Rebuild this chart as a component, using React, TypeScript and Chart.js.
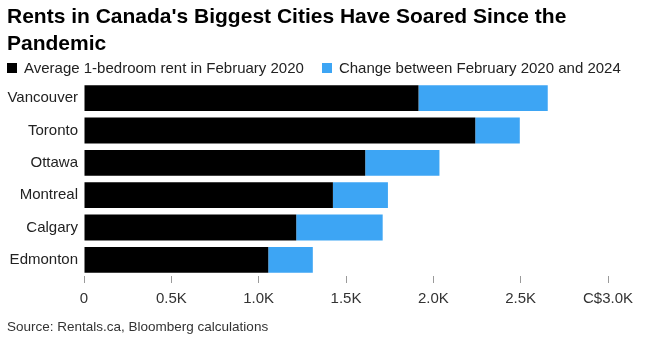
import React, { useEffect, useRef } from "react";
import { Chart, registerables } from "chart.js";

Chart.register(...registerables);

const cities = ["Vancouver", "Toronto", "Ottawa", "Montreal", "Calgary", "Edmonton"];
// Average 1-bedroom rent, February 2020 (C$)
const rent2020 = [1915, 2240, 1610, 1425, 1215, 1055];
// Increase between February 2020 and February 2024 (C$)
const change2020to2024 = [740, 255, 425, 315, 495, 255];
const xTicks = [0, 500, 1000, 1500, 2000, 2500, 3000];
const xTickLabels = ["0", "0.5K", "1.0K", "1.5K", "2.0K", "2.5K", "C$3.0K"];

const FONT = "'Liberation Sans', Arial, sans-serif";
const BLACK = "#000000";
const BLUE = "#3da5f4";

export default function App() {
  const canvasRef = useRef<HTMLCanvasElement | null>(null);

  useEffect(() => {
    document.body.style.margin = "0";
    const canvas = canvasRef.current;
    if (!canvas) return;
    const chart = new Chart(canvas, {
      type: "bar",
      data: {
        labels: cities,
        datasets: [
          {
            label: "Average 1-bedroom rent in February 2020",
            data: rent2020,
            backgroundColor: BLACK,
            categoryPercentage: 1,
            barPercentage: 0.8,
          },
          {
            label: "Change between February 2020 and 2024",
            data: change2020to2024,
            backgroundColor: BLUE,
            categoryPercentage: 1,
            barPercentage: 0.8,
          },
        ],
      },
      options: {
        indexAxis: "y",
        animation: false,
        responsive: false,
        maintainAspectRatio: false,
        layout: { padding: { top: 82, right: 42, bottom: 0, left: 0 } },
        plugins: {
          legend: { display: false },
          title: { display: false },
          tooltip: { enabled: false },
        },
        scales: {
          x: {
            stacked: true,
            min: 0,
            max: 3000,
            afterBuildTicks: (axis: any) => {
              axis.ticks = xTicks.map((v) => ({ value: v }));
            },
            afterFit: (axis: any) => {
              axis.height = 64;
            },
            ticks: {
              padding: 7,
              color: "#333333",
              font: { family: FONT, size: 15 },
              maxRotation: 0,
              callback: (_v: any, i: number) => xTickLabels[i],
            },
            grid: {
              display: true,
              drawOnChartArea: false,
              drawTicks: true,
              tickLength: 7,
              color: "#9a9a9a",
              lineWidth: 1,
            },
            border: { display: false },
          },
          y: {
            stacked: true,
            afterFit: (axis: any) => {
              axis.width = 84;
            },
            ticks: {
              padding: 6,
              color: "#222222",
              font: { family: FONT, size: 15 },
            },
            grid: { display: false, drawTicks: false },
            border: { display: false },
          },
        },
      },
    });
    return () => chart.destroy();
  }, []);

  return (
    <div style={{ position: "relative", width: 650, height: 340, background: "#ffffff", fontFamily: FONT }}>
      <canvas ref={canvasRef} width={650} height={340} style={{ position: "absolute", left: 0, top: 0 }} />
      <div
        style={{
          position: "absolute",
          left: 7,
          top: 2,
          width: 630,
          fontSize: 21,
          lineHeight: "27px",
          fontWeight: 700,
          color: "#000000",
        }}
      >
        Rents in Canada's Biggest Cities Have Soared Since the Pandemic
      </div>
      <div
        style={{
          position: "absolute",
          left: 7,
          top: 59,
          fontSize: 15,
          lineHeight: "18px",
          color: "#222222",
          display: "flex",
          alignItems: "center",
          whiteSpace: "nowrap",
        }}
      >
        <span style={{ display: "inline-block", width: 10, height: 10, background: BLACK, marginRight: 7 }} />
        <span style={{ marginRight: 18 }}>Average 1-bedroom rent in February 2020</span>
        <span style={{ display: "inline-block", width: 10, height: 10, background: BLUE, marginRight: 7 }} />
        <span>Change between February 2020 and 2024</span>
      </div>
      <div
        style={{
          position: "absolute",
          left: 7,
          top: 319,
          fontSize: 13.5,
          lineHeight: "16px",
          color: "#333333",
          whiteSpace: "nowrap",
        }}
      >
        Source: Rentals.ca, Bloomberg calculations
      </div>
    </div>
  );
}
